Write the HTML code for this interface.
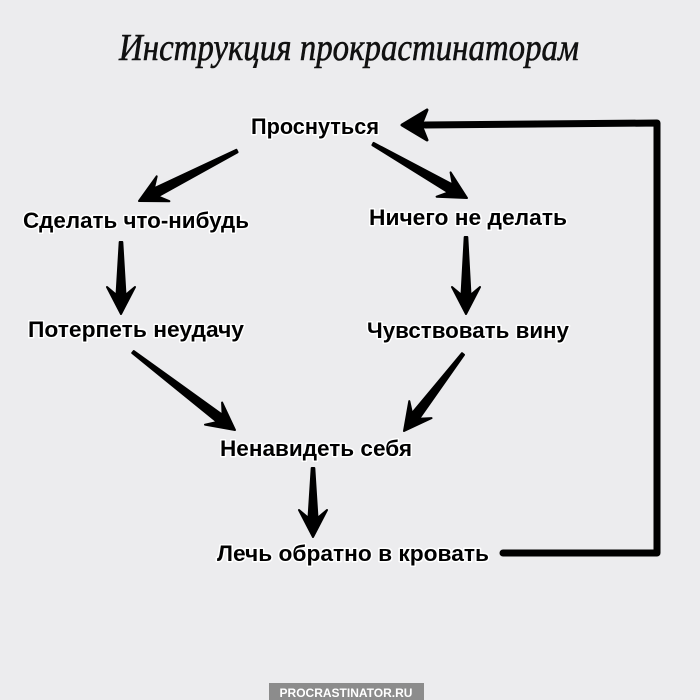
<!DOCTYPE html>
<html><head><meta charset="utf-8"><style>
html,body{margin:0;padding:0;background:#ececee;}
svg{display:block}
.l{font-family:"Liberation Sans","DejaVu Sans",sans-serif;font-weight:bold;font-size:22px;fill:#000;paint-order:stroke;stroke:#fff;stroke-width:3px;stroke-linejoin:round}
</style></head><body>
<svg id="s" width="700" height="700" viewBox="0 0 700 700" xmlns="http://www.w3.org/2000/svg">
<rect width="700" height="700" fill="#ececee"/>
<text x="349" y="60" text-anchor="middle" font-family="Liberation Serif,serif" font-style="italic" font-size="38" textLength="460" lengthAdjust="spacingAndGlyphs" fill="#111" stroke="#111" stroke-width="0.6">Инструкция прокрастинаторам</text>
<text class="l" x="315" y="134" text-anchor="middle" textLength="128" lengthAdjust="spacingAndGlyphs">Проснуться</text>
<text class="l" x="136" y="228" text-anchor="middle" textLength="226" lengthAdjust="spacingAndGlyphs">Сделать что-нибудь</text>
<text class="l" x="468" y="225" text-anchor="middle" textLength="198" lengthAdjust="spacingAndGlyphs">Ничего не делать</text>
<text class="l" x="136" y="337" text-anchor="middle" textLength="216" lengthAdjust="spacingAndGlyphs">Потерпеть неудачу</text>
<text class="l" x="468" y="338" text-anchor="middle" textLength="202" lengthAdjust="spacingAndGlyphs">Чувствовать вину</text>
<text class="l" x="316" y="456" text-anchor="middle" textLength="192" lengthAdjust="spacingAndGlyphs">Ненавидеть себя</text>
<text class="l" x="353" y="561" text-anchor="middle" textLength="272" lengthAdjust="spacingAndGlyphs">Лечь обратно в кровать</text>
<polyline points="503,553 657,553 657,123 425,125" fill="none" stroke="#000" stroke-width="7" stroke-linejoin="round" stroke-linecap="round"/>
<polygon points="402,125 427,110 421,125 427,140" fill="#000" stroke="#000" stroke-width="3" stroke-linejoin="round"/>
<rect x="269" y="683" width="155" height="17" fill="#8c8c8c"/>
<text x="346" y="697" text-anchor="middle" font-family="Liberation Sans,sans-serif" font-weight="bold" font-size="12" fill="#fff">PROCRASTINATOR.RU</text>
</svg>
<script>
var s=document.getElementById('s');
function arrow(x1,y1,x2,y2){
var dx=x2-x1,dy=y2-y1,d=Math.hypot(dx,dy),ux=dx/d,uy=dy/d,nx=-uy,ny=ux;
var L=27,H=14,N=8,w0=1.3,w1=4.5;
var bx=x2-ux*L,by=y2-uy*L, cx=x2-ux*(L-N),cy=y2-uy*(L-N);
var p=[[x1+nx*w0,y1+ny*w0],[cx+nx*w1,cy+ny*w1],[bx+nx*H,by+ny*H],[x2,y2],[bx-nx*H,by-ny*H],[cx-nx*w1,cy-ny*w1],[x1-nx*w0,y1-ny*w0]];
var e=document.createElementNS('http://www.w3.org/2000/svg','polygon');
e.setAttribute('points',p.map(function(q){return q[0].toFixed(1)+','+q[1].toFixed(1)}).join(' '));
e.setAttribute('fill','#000');e.setAttribute('stroke','#000');e.setAttribute('stroke-width','2');e.setAttribute('stroke-linejoin','round');
s.appendChild(e);}
arrow(237,151,139,201);
arrow(373,144,467,198);
arrow(121,242,121,314);
arrow(466,237,466,314);
arrow(133,352,235,430);
arrow(463,354,404,431);
arrow(313,468,313,537);
</script>
</body></html>
